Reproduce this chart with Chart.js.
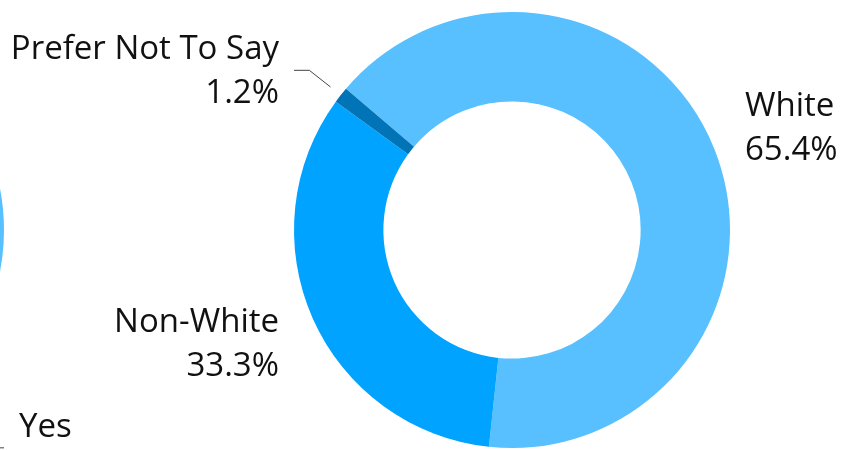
<!DOCTYPE html>
<html>
<head>
<meta charset="utf-8">
<script src="https://cdn.jsdelivr.net/npm/chart.js@4"></script>
<style>
  html, body { margin: 0; padding: 0; background: #fff; overflow: hidden; }
  #wrap { position: relative; width: 851px; height: 450px; overflow: hidden; }
  canvas { position: absolute; top: 0; }
  #ethnicity { left: 0; }
  #answers { left: -726px; }
</style>
</head>
<body>
<div id="wrap">
  <canvas id="answers" width="851" height="450"></canvas>
  <canvas id="ethnicity" width="851" height="450"></canvas>
</div>
<script>
'use strict';

// ethnicity split
let ethnicLabels = ['White', 'Non-White', 'Prefer Not To Say'];
let ethnicValues = [65.4, 33.3, 1.2];
let ethnicColors = ['#58c0fe', '#00a3ff', '#0074b6'];

// yes/no doughnut next door, only its right edge is in view
let answerLabels = ['Yes', 'No'];
let answerValues = [82, 18];
let answerColors = ['#58c0fe', '#00a3ff'];

// labels outside the ring: name on one line, percent below,
// with an elbow connector when the label sits past the slice
const outsideLabels = {
  id: 'outsideLabels',
  afterDatasetsDraw(chart) {
    const ctx = chart.ctx;
    const meta = chart.getDatasetMeta(0);
    const values = chart.data.datasets[0].data;
    ctx.save();
    ctx.font = '33px "Open Sans"';
    ctx.fillStyle = '#111';
    meta.data.forEach((arc, i) => {
      const p = arc.getProps(['x', 'y', 'startAngle', 'endAngle', 'outerRadius'], true);
      const mid = (p.startAngle + p.endAngle) / 2;
      const cos = Math.cos(mid);
      const sin = Math.sin(mid);
      const r = p.outerRadius;
      const side = cos >= 0 ? 1 : -1;
      const edgeX = p.x + side * r;
      const bx = p.x + cos * (r + 40);
      const by = p.y + sin * (r + 40);
      const needsLine = side > 0 ? bx < edgeX : bx > edgeX;
      const labelY = needsLine ? by : p.y + sin * (r + 60);

      if (needsLine) {
        ctx.strokeStyle = '#444';
        ctx.lineWidth = 1;
        ctx.beginPath();
        ctx.moveTo(p.x + cos * (r + 13), p.y + sin * (r + 13));
        ctx.lineTo(bx, by);
        ctx.lineTo(edgeX, by);
        ctx.stroke();
      }

      ctx.textAlign = side > 0 ? 'left' : 'right';
      const tx = edgeX + side * 15;
      ctx.fillText(chart.data.labels[i], tx, labelY - 11);
      ctx.fillText(values[i].toFixed(1) + '%', tx, labelY + 33);
    });
    ctx.restore();
  }
};

function makeDoughnut(id, labels, values, colors, rotation) {
  return new Chart(document.getElementById(id), { //eslint-disable-line
    type: 'doughnut',
    data: {
      labels: labels,
      datasets: [{
        data: values,
        backgroundColor: colors,
        borderWidth: 0
      }]
    },
    options: {
      responsive: false,
      animation: false,
      rotation: rotation,
      cutout: '59%',
      layout: { padding: { left: 294, right: 121, top: 12, bottom: 2 } },
      plugins: {
        legend: { display: false },
        tooltip: { enabled: false }
      }
    },
    plugins: [outsideLabels]
  });
}

document.fonts.load('33px "Open Sans"').then(() => {
  makeDoughnut('answers', answerLabels, answerValues, answerColors, 0);
  makeDoughnut('ethnicity', ethnicLabels, ethnicValues, ethnicColors, -49.6);
});
</script>
</body>
</html>
